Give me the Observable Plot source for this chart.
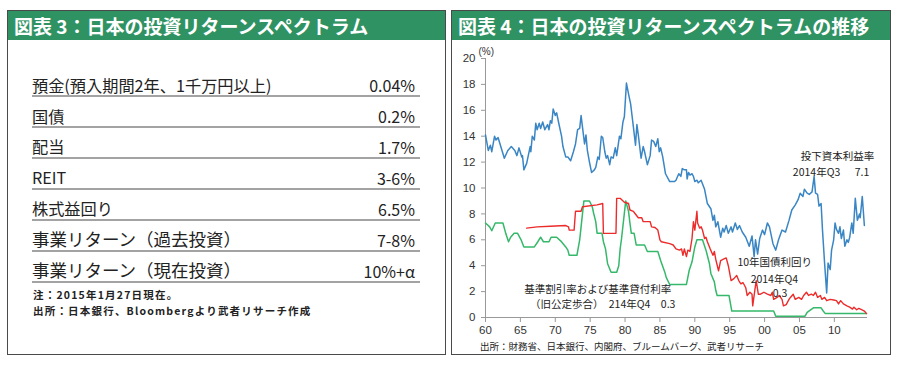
<!DOCTYPE html>
<html><head><meta charset="utf-8">
<script src="https://cdn.jsdelivr.net/npm/d3@7"></script>
<script src="https://cdn.jsdelivr.net/npm/@observablehq/plot@0.6"></script>
<style>
html,body{margin:0;padding:0;background:#fff;}
body{width:900px;height:369px;position:relative;overflow:hidden;font-family:"Noto Sans CJK JP","Noto Sans",sans-serif;color:#222;}
.panel{position:absolute;top:10px;height:345px;border:1.5px solid #4a4a4a;box-sizing:border-box;background:#fff;}
.head{position:absolute;left:0;top:0;right:0;height:29px;background:#2f9263;color:#fff;font-weight:bold;font-size:19px;line-height:29px;padding-left:6px;white-space:nowrap;}
.row{position:absolute;left:24px;width:388px;border-bottom:2px solid #a3a3a3;display:flex;justify-content:space-between;align-items:flex-end;line-height:1;padding-bottom:2px;box-sizing:border-box;}
.note{position:absolute;left:25px;font-size:10.5px;font-weight:bold;letter-spacing:1.2px;white-space:nowrap;color:#222;}
#plotbox{position:absolute;left:0px;top:28px;}
.src{position:absolute;left:28px;top:328px;font-size:9.5px;white-space:nowrap;color:#222;}
</style>
</head><body>
<script>
// ---- Table (図表3) ----
const tableLabels = ["預金(預入期間2年、1千万円以上)", "国債", "配当", "REIT", "株式益回り", "事業リターン（過去投資）", "事業リターン（現在投資）"];
const tableValues = ["0.04%", "0.2%", "1.7%", "3-6%", "6.5%", "7-8%", "10%+α"];

// ---- Chart (図表4) ----
const xTickYears = [1960, 1965, 1970, 1975, 1980, 1985, 1990, 1995, 2000, 2005, 2010];
const yTickValues = [0, 2, 4, 6, 8, 10, 12, 14, 16, 18, 20];

// 投下資本利益率 (blue)
const roiYear = [1960.0,1960.4,1960.7,1960.9,1961.3,1961.5,1961.8,1962.7,1963.2,1963.7,1964.2,1964.5,1964.8,1965.2,1965.3,1965.5,1965.9,1966.4,1966.5,1966.7,1967.0,1967.2,1967.4,1967.7,1967.9,1968.2,1968.5,1968.9,1969.1,1969.3,1969.5,1969.7,1970.0,1970.2,1970.5,1970.9,1971.1,1971.5,1971.8,1972.2,1972.6,1972.9,1973.2,1973.5,1973.7,1973.9,1974.2,1974.4,1974.6,1974.9,1975.2,1975.6,1975.8,1976.1,1976.3,1976.6,1976.8,1977.1,1977.3,1977.5,1977.8,1978.0,1978.3,1978.6,1978.8,1979.2,1979.4,1979.7,1979.9,1980.2,1980.6,1980.8,1981.2,1981.5,1981.7,1981.9,1982.3,1982.6,1982.8,1983.2,1983.6,1983.8,1984.1,1984.4,1984.7,1984.9,1985.1,1985.4,1985.8,1986.4,1987.1,1987.3,1987.7,1988.0,1988.2,1988.5,1988.8,1988.9,1989.1,1989.3,1989.6,1989.8,1990.0,1990.3,1990.5,1990.9,1991.4,1991.8,1992.3,1992.6,1992.8,1993.0,1993.3,1993.5,1993.7,1994.0,1994.2,1994.5,1994.8,1995.2,1995.4,1995.8,1996.1,1996.4,1996.8,1997.3,1997.8,1998.2,1998.5,1998.7,1999.0,1999.3,1999.7,2000.0,2000.4,2000.7,2001.2,2001.6,2002.0,2002.5,2003.0,2003.5,2003.9,2004.4,2004.8,2005.1,2005.5,2005.7,2006.1,2006.4,2006.8,2007.1,2007.3,2007.6,2007.8,2008.1,2008.3,2008.6,2008.9,2009.1,2009.4,2009.6,2009.9,2010.1,2010.3,2010.6,2010.8,2011.0,2011.3,2011.5,2011.8,2012.0,2012.2,2012.5,2012.7,2013.0,2013.3,2013.6,2013.7,2014.0,2014.3];
const roiValue = [14.1,12.9,13.3,12.8,14.0,13.7,13.9,12.3,12.9,13.2,12.9,12.5,13.1,12.4,12.5,11.4,11.9,13.2,12.8,14.0,13.7,15.0,14.5,15.0,14.6,15.1,14.5,14.9,14.5,15.2,15.0,16.1,15.6,15.8,15.0,14.0,13.2,12.4,12.4,12.1,12.8,13.4,14.5,14.6,15.6,14.7,13.4,14.1,12.9,12.0,11.2,11.4,11.6,12.4,12.2,14.0,13.9,12.8,12.3,12.5,11.8,12.4,12.3,13.1,12.5,14.0,13.8,15.1,15.5,18.1,17.0,16.5,14.7,13.3,14.9,14.1,12.3,13.2,12.8,11.8,12.5,13.7,13.6,13.2,13.8,12.8,13.1,12.4,11.1,10.5,10.5,10.6,11.1,10.9,11.5,11.4,11.4,10.7,11.2,11.0,11.1,10.9,10.5,10.6,10.4,10.6,9.9,8.8,8.4,7.5,7.9,7.0,7.4,6.8,6.2,6.9,6.6,7.1,6.5,7.0,6.6,7.3,6.8,7.1,6.6,6.2,5.5,6.3,4.7,6.0,4.9,6.1,6.75,6.4,7.3,7.0,5.7,5.2,6.0,6.75,6.6,7.5,8.3,8.7,9.1,9.6,9.35,9.9,9.6,9.5,9.7,10.9,9.6,9.5,8.6,8.8,6.75,4.2,1.9,4.2,3.7,5.2,6.0,7.3,6.8,6.5,7.0,6.1,6.75,5.5,6.0,5.8,6.2,7.3,6.5,9.2,7.5,8.0,7.7,9.35,7.1];

// 10年国債利回り (red)
const jgbYear = [1965.9,1967.4,1969.3,1971.5,1971.9,1972.0,1972.7,1972.9,1973.7,1973.9,1976.0,1976.8,1976.9,1978.7,1978.8,1979.3,1979.9,1980.5,1980.7,1981.2,1981.4,1981.9,1982.4,1982.6,1983.6,1983.8,1984.3,1984.7,1985.0,1985.2,1986.4,1986.9,1987.3,1987.8,1988.1,1988.3,1988.5,1988.8,1989.0,1989.3,1989.6,1989.8,1990.0,1990.3,1990.4,1990.7,1990.9,1991.1,1991.4,1991.6,1991.8,1992.2,1992.6,1992.8,1993.0,1993.4,1993.7,1994.1,1994.5,1994.8,1995.2,1995.6,1996.0,1996.3,1996.6,1996.9,1997.3,1997.5,1997.9,1998.2,1998.3,1998.6,1998.8,1999.1,1999.4,1999.9,2000.4,2000.9,2001.1,2001.3,2001.8,2002.1,2002.5,2002.7,2003.1,2003.5,2003.7,2004.1,2004.4,2004.9,2005.3,2005.6,2006.0,2006.3,2006.7,2007.0,2007.3,2007.6,2008.0,2008.2,2008.6,2008.9,2009.4,2009.9,2010.3,2010.6,2010.9,2011.3,2011.8,2012.2,2012.6,2012.8,2013.2,2013.5,2013.9,2014.3,2014.6];
const jgbValue = [6.9,7.0,7.05,7.1,7.0,6.75,6.75,8.2,8.2,8.55,8.7,8.8,6.5,6.5,9.2,9.2,8.9,8.8,8.3,8.2,8.05,7.7,7.7,7.4,7.4,7.0,6.95,6.75,6.0,5.85,5.7,5.6,5.3,5.2,5.3,4.8,5.3,4.7,5.2,5.1,6.1,7.4,6.75,8.2,7.3,6.9,7.0,6.75,6.1,6.2,5.85,5.3,4.8,5.1,4.5,3.6,4.4,4.5,4.6,4.0,2.85,3.0,3.25,2.85,2.6,2.7,2.3,1.7,1.95,1.8,0.9,2.1,2.85,1.8,1.8,1.95,1.8,1.7,1.95,1.4,1.55,1.7,1.4,0.9,1.0,1.4,1.55,1.8,1.4,1.55,1.4,1.7,1.95,1.7,1.8,1.7,1.95,1.55,1.7,1.4,1.55,1.3,1.4,1.35,1.3,1.05,1.3,1.05,0.9,0.8,0.65,0.8,0.6,0.7,0.6,0.5,0.3];

// 基準割引率および基準貸付利率 (green)
const rateYear = [1960.0,1960.6,1960.9,1961.4,1962.5,1962.9,1963.3,1963.6,1964.1,1964.6,1965.1,1965.5,1967.0,1967.5,1967.9,1968.3,1969.1,1969.4,1970.2,1970.8,1971.5,1971.8,1972.0,1973.1,1973.5,1973.7,1974.1,1974.9,1975.3,1975.5,1975.8,1976.0,1976.7,1976.9,1977.2,1977.5,1978.0,1978.8,1979.1,1979.3,1979.5,1979.9,1980.1,1980.5,1980.7,1980.9,1981.3,1981.6,1982.8,1983.2,1984.7,1985.1,1985.7,1985.9,1986.4,1988.8,1989.0,1989.2,1989.6,1990.0,1990.3,1991.1,1991.6,1992.1,1992.3,1992.8,1993.0,1993.2,1994.9,1995.3,2001.3,2001.6,2005.8,2006.1,2007.0,2008.1,2008.4,2008.7,2014.6];
const rateValue = [7.3,7.0,6.7,7.3,7.3,6.5,5.85,6.2,6.5,6.5,6.0,5.45,5.45,5.85,6.2,5.85,5.85,6.2,6.2,5.9,5.45,5.2,4.8,4.8,6.0,7.0,9.0,9.0,8.55,8.05,7.4,6.5,6.5,5.85,5.3,4.15,3.5,3.5,4.0,5.3,6.1,8.05,9.0,8.2,7.3,6.5,6.5,5.6,5.6,5.1,5.1,4.4,3.5,3.1,2.55,2.55,3.1,3.65,4.3,5.45,6.0,6.0,5.2,4.15,3.4,2.75,2.1,1.7,1.7,0.5,0.5,0.1,0.1,0.4,0.75,0.75,0.5,0.3,0.3];

const annoText = ["投下資本利益率", "2014年Q3", "7.1", "10年国債利回り", "2014年Q4", "0.3", "基準割引率および基準貸付利率", "（旧公定歩合）　214年Q4　0.3"];
const annoYear = [2010.45, 2007.45, 2013.97, 2001.45, 2001.4, 2002.2, 1976.1, 1976.8];
const annoValue = [12.45, 11.2, 11.2, 4.25, 2.95, 1.85, 2.15, 1.0];

// ---------- build left panel ----------
const left = document.createElement("div");
left.className = "panel";
left.style.left = "7px"; left.style.width = "439px";
left.innerHTML = '<div class="head">図表 3：日本の投資リターンスペクトラム</div>';
document.body.appendChild(left);
const lineYs = [95, 126, 156.5, 187.5, 218.5, 249.5, 280.5];
tableLabels.forEach((lab, i) => {
  const r = document.createElement("div");
  r.className = "row";
  const big = i >= 5;
  const h = 30;
  r.style.top = (lineYs[i] - 10 - h + 1) + "px";
  r.style.height = h + "px";
  r.innerHTML = `<span style="font-size:${big ? 17.5 : 16.2}px">${lab}</span><span style="font-size:16px;padding-right:5px">${tableValues[i]}</span>`;
  left.appendChild(r);
});
const n1 = document.createElement("div"); n1.className = "note"; n1.style.top = "276px"; n1.textContent = "注：2015年1月27日現在。"; left.appendChild(n1);
const n2 = document.createElement("div"); n2.className = "note"; n2.style.top = "292px"; n2.textContent = "出所：日本銀行、Bloombergより武者リサーチ作成"; left.appendChild(n2);

// ---------- build right panel ----------
const right = document.createElement("div");
right.className = "panel";
right.style.left = "451px"; right.style.width = "440px";
right.innerHTML = '<div class="head">図表 4：日本の投資リターンスペクトラムの推移</div><div id="plotbox"></div><div class="src">出所：財務省、日本銀行、内閣府、ブルームバーグ、武者リサーチ</div>';
document.body.appendChild(right);

const chart = Plot.plot({
  width: 437, height: 300,
  marginLeft: 33, marginRight: 22, marginTop: 19, marginBottom: 22,
  style: {fontFamily: "'Liberation Sans', Arial, sans-serif", fontSize: "11.5px", color: "#333", background: "transparent", overflow: "visible"},
  x: {domain: [1960, 2014.75], label: null},
  y: {domain: [0, 20], label: null},
  marks: [
    Plot.axisX({ticks: xTickYears, tickFormat: d => String(d % 100).padStart(2, "0"), tickSize: 5, tickPadding: 3, stroke: "#999", fill: "#333", label: null}),
    Plot.axisY({ticks: yTickValues, tickSize: 4, tickPadding: 6, stroke: "#999", fill: "#333", label: null}),
    Plot.ruleX([1960], {stroke: "#999"}),
    Plot.ruleY([0], {stroke: "#999"}),
    Plot.line(rateValue, {x: rateYear, y: rateValue, stroke: "#35b86a", strokeWidth: 1.5}),
    Plot.line(jgbValue, {x: jgbYear, y: jgbValue, stroke: "#ec2b2b", strokeWidth: 1.4}),
    Plot.line(roiValue, {x: roiYear, y: roiValue, stroke: "#3a86c4", strokeWidth: 1.5}),
    Plot.text(annoText, {x: annoYear, y: annoValue, text: d => d, fontSize: 10.5, fill: "#222", fontFamily: "'Noto Sans CJK JP', sans-serif"}),
    Plot.text(["(%)"], {frameAnchor: "top-left", text: d => d, dx: -7, dy: -11, textAnchor: "start", fontSize: 10, fill: "#333"})
  ]
});
document.getElementById("plotbox").appendChild(chart);
</script>
</body></html>
